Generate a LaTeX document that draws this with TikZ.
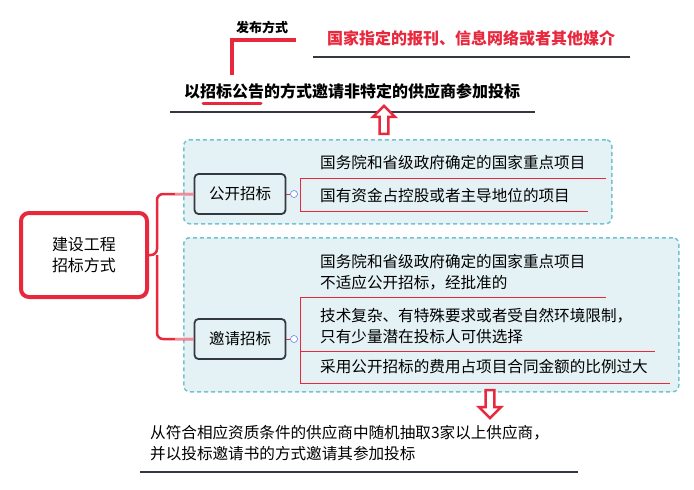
\documentclass[tikz,border=0pt]{standalone}
\usepackage{fontspec}
\setmainfont{Noto Sans CJK SC}
\usetikzlibrary{shapes.arrows}
\definecolor{cred}{HTML}{E8283C}
\definecolor{cdark}{HTML}{333842}
\definecolor{cfill}{HTML}{E4F2F6}
\definecolor{cdash}{HTML}{72C3D0}
\definecolor{cpink}{HTML}{F08C9A}
\begin{document}
\begin{tikzpicture}[x=1pt,y=-1pt,
  txt/.style={anchor=west,inner sep=0pt,font=\fontsize{15.6}{17}\selectfont},
  grp/.style={draw=cdash,fill=cfill,dash pattern=on 4pt off 3pt,line width=1.5pt,rounded corners=6pt},
  sub/.style={draw=cdark,line width=1.8pt,rounded corners=4pt,fill=cfill,minimum width=91pt,minimum height=40pt,inner sep=0pt,font=\fontsize{15.5}{17}\selectfont},
  rl/.style={draw=cred,line width=0.9pt},
  dl/.style={draw=cdark,line width=1.5pt},
  harrow/.style={single arrow,draw=cred,fill=white,line width=2.5pt,minimum height=28pt,minimum width=22pt,single arrow head extend=5pt,inner sep=2pt}]
\useasboundingbox (0,0) rectangle (694,490);
% top
\node[anchor=center,inner sep=0pt,font=\fontsize{13}{15}\selectfont\bfseries] (fb) at (262,27) {发布方式};
\draw[cred,line width=4pt] (232,75) -- (232,40) coordinate (c1) -- (296,40);
\node[txt,text=cred,font=\fontsize{16}{18}\selectfont\bfseries] (med) at (327,38) {国家指定的报刊、信息网络或者其他媒介};
\draw[dl] (313,57) -- (630,57);
\node[txt,font=\fontsize{16}{18}\selectfont\bfseries] (main) at (184,91) {以招标公告的方式邀请非特定的供应商参加投标};
\draw[cred,line width=3pt,line cap=round] (203,103) -- (261,103);
\draw[dl] (170,112) -- (535,112);
\node[harrow,rotate=90] (up) at (384,122) {};
% groups
\node[grp,minimum width=428pt,minimum height=84pt,anchor=north west] (g1) at (183,139) {};
\node[grp,minimum width=495pt,minimum height=154pt,anchor=north west] (g2) at (183,237) {};
\node[sub] (gk) at (240,194) {公开招标};
\node[sub] (yq) at (240,339) {邀请招标};
\node[draw=cred,line width=4pt,rounded corners=8pt,minimum width=126pt,minimum height=84pt,font=\fontsize{16}{21}\selectfont,align=center] (root) at (84,255) {建设工程\\招标方式};
\draw[cred,line width=2.5pt,rounded corners=6pt] (root.east) -- (157,255) |- (gk.west);
\draw[cred,line width=2.5pt,rounded corners=6pt] (157,255) |- (yq.west);
\draw[cpink,line width=1.5pt] (175,194) -- (gk.west);
\draw[cpink,line width=1.5pt] (175,339) -- (yq.west);
\node[circle,draw=cdash!60!blue,fill=white,inner sep=0pt,minimum size=7pt,line width=0.5pt] (o1) at (294,194) {};
\node[circle,draw=cdash!60!blue,fill=white,inner sep=0pt,minimum size=7pt,line width=0.5pt] (o2) at (294,339) {};
\draw[cred,line width=0.6pt] (gk.east) -- (o1);
\draw[cred,line width=0.6pt] (yq.east) -- (o2);
% group 1 items
\node[txt] (a1) at (320,163) {国务院和省级政府确定的国家重点项目};
\node[txt] (a2) at (320,196) {国有资金占控股或者主导地位的项目};
\draw[rl] (606,178) -- (300,178) -- (300,211) -- (588,211);
% group 2 items
\node[txt,align=left,font=\fontsize{15.6}{21}\selectfont] (b1) at (320,272) {国务院和省级政府确定的国家重点项目\\不适应公开招标，经批准的};
\node[txt,align=left,font=\fontsize{15.6}{21}\selectfont] (b2) at (320,326) {技术复杂、有特殊要求或者受自然环境限制，\\只有少量潜在投标人可供选择};
\node[txt] (b3) at (320,367) {采用公开招标的费用占项目合同金额的比例过大};
\draw[rl] (606,297) -- (300,297) -- (300,383) -- (670,383);
\draw[rl] (300,351) -- (655,351);
% bottom
\node[harrow,rotate=-90] (dn) at (490,402) {};
\node[txt,align=left,font=\fontsize{15.6}{21}\selectfont] (bt) at (150,443) {从符合相应资质条件的供应商中随机抽取3家以上供应商，\\并以投标邀请书的方式邀请其参加投标};
\draw[dl] (140,472) -- (578,472);
\end{tikzpicture}
\end{document}
